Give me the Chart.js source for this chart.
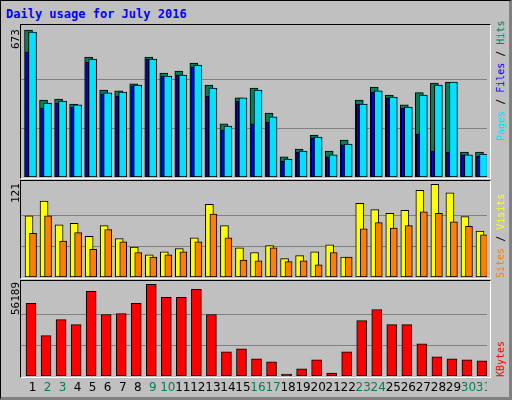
<!DOCTYPE html>
<html>
<head>
<meta charset="utf-8">
<script src="https://cdn.jsdelivr.net/npm/chart.js@4"></script>
<style>
  body { margin: 0; background: #c0c0c0; }
  #frame { position: absolute; left: 0; top: 0; width: 508px; height: 396px; background: #c0c0c0;
           border: 1px solid #000; border-right: 3px solid #808080; border-bottom: 3px solid #808080; }
  .panel { position: absolute; left: 20px; width: 469px; border: 1px solid #000; border-right-color: #fff; border-bottom-color: #fff; }
  canvas { position: absolute; }
  .up { position: absolute; transform-origin: 0 0; transform: rotate(-90deg); white-space: nowrap;
        font: 11px "DejaVu Sans Mono", monospace; }
  #title { position: absolute; left: 6px; top: 7px; font: bold 12px "DejaVu Sans Mono", monospace; color: #0000ff; }
</style>
</head>
<body>
<div id="frame"></div>
<div id="title">Daily usage for July 2016</div>
<div class="panel" style="top:24px;height:153px"></div>
<div class="panel" style="top:180px;height:97px"></div>
<div class="panel" style="top:280px;height:96px"></div>
<canvas id="c1" width="466" height="152" style="left:21px;top:25px"></canvas>
<canvas id="c2" width="466" height="96" style="left:21px;top:181px"></canvas>
<canvas id="c3" width="466" height="115" style="left:21px;top:281px"></canvas>

<div class="up" style="left:9px;top:49px">673</div>
<div class="up" style="left:9px;top:203px">121</div>
<div class="up" style="left:9px;top:315px">56189</div>
<div class="up" style="left:495px;top:141px;font-size:10px"><span style="color:#00e0ff">Pages</span> / <span style="color:#0000ff">Files</span> / <span style="color:#00805c">Hits</span></div>
<div class="up" style="left:495px;top:278px;font-size:10px"><span style="color:#ff8000">Sites</span> / <span style="color:#ffff00">Visits</span></div>
<div class="up" style="left:495px;top:377px;font-size:10px;color:#ff0000">KBytes</div>

<script>
// days of July 2016
const days = ['1','2','3','4','5','6','7','8','9','10','11','12','13','14','15','16',
              '17','18','19','20','21','22','23','24','25','26','27','28','29','30','31'];
const weekend = [2, 3, 9, 10, 16, 17, 23, 24, 30, 31];

const hits  = [673,352,357,334,549,398,394,427,549,476,485,522,421,243,362,407,
               293,92,128,192,119,169,352,412,375,330,386,430,435,114,114];
const pages = [664,339,348,330,540,385,389,421,540,462,467,513,407,233,362,398,
               275,82,119,183,101,151,334,394,366,320,375,421,435,101,105];
const files = [572,316,339,320,526,380,371,417,540,462,467,504,371,215,348,243,
               252,73,114,179,92,147,334,389,362,316,197,119,114,101,96];

const visits = [80,99,68,70,53,67,50,39,29,33,37,51,95,67,38,32,
                41,24,28,33,42,26,96,88,83,87,113,121,110,79,60];
const sites  = [57,80,47,58,36,62,46,32,26,29,33,46,82,51,22,21,
                38,20,21,16,32,26,63,71,64,67,85,83,72,66,55];

const kbytes = [44455,24700,34580,31490,51870,37670,38280,44455,56189,48160,48160,53100,37670,14820,16670,10500,
                8640,1235,4320,9880,1850,14820,33960,40750,31490,31490,19760,11730,10500,9880,9260];

// shift bars sideways inside each day slot, like webalizer does
const shiftPlugin = {
  id: 'shift',
  afterDatasetsUpdate(chart) {
    chart.data.datasets.forEach((ds, i) => {
      chart.getDatasetMeta(i).data.forEach(el => { el.x += ds.shift || 0; });
    });
  }
};

function bar(label, data, color, thick, shift) {
  return { label, data, backgroundColor: color, borderColor: '#000', borderWidth: 1,
           borderSkipped: false, barThickness: thick, shift, grouped: false };
}

function opts(max, peak) {
  return {
    responsive: false,
    animation: false,
    events: [],
    layout: { padding: 0 },
    plugins: { legend: { display: false }, tooltip: { enabled: false } },
    scales: {
      x: { display: false },
      y: {
        min: 0, max: max,
        afterFit: s => { s.width = 0; },
        afterBuildTicks: s => { s.ticks = [{ value: peak / 3 }, { value: peak * 2 / 3 }]; },
        ticks: { display: false },
        border: { display: false },
        grid: { color: '#808080', drawTicks: false }
      }
    }
  };
}

new Chart(document.getElementById('c1'), {
  type: 'bar',
  data: { labels: days, datasets: [
    bar('Pages', pages, '#00e0ff', 8, 4),
    bar('Files', files, '#0000ff', 3, -1.5),
    bar('Hits', hits, '#00805c', 8, 0)
  ] },
  options: opts(696, 673),
  plugins: [shiftPlugin]
});

new Chart(document.getElementById('c2'), {
  type: 'bar',
  data: { labels: days, datasets: [
    bar('Sites', sites, '#ff8000', 7, 4.5),
    bar('Visits', visits, '#ffff00', 8, 0.5)
  ] },
  options: opts(125.3, 121),
  plugins: [shiftPlugin]
});

// day numbers under the last panel
const dayLabels = {
  id: 'dayLabels',
  afterDraw(chart) {
    const ctx = chart.ctx, x = chart.scales.x;
    ctx.save();
    ctx.font = '12px "DejaVu Sans", sans-serif';
    ctx.textAlign = 'center';
    ctx.textBaseline = 'middle';
    days.forEach((d, i) => {
      ctx.fillStyle = weekend.includes(+d) ? '#00805c' : '#000';
      ctx.fillText(d, x.getPixelForValue(i) + 4, chart.chartArea.bottom + 12);
    });
    ctx.restore();
  }
};

const o3 = opts(58200, 56189);
o3.layout.padding = { bottom: 20 };
new Chart(document.getElementById('c3'), {
  type: 'bar',
  data: { labels: days, datasets: [ bar('KBytes', kbytes, '#ff0000', 10, 2.5) ] },
  options: o3,
  plugins: [shiftPlugin, dayLabels]
});
</script>
</body>
</html>
